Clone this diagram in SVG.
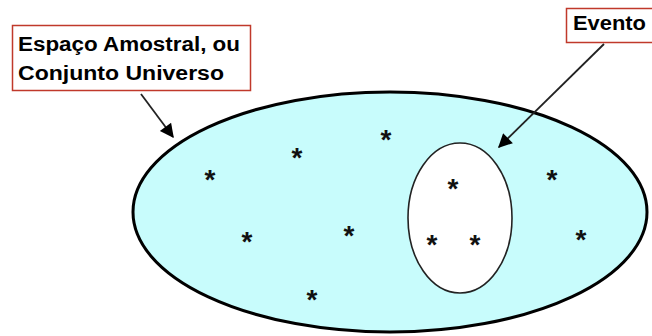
<svg xmlns="http://www.w3.org/2000/svg" width="652" height="336" viewBox="0 0 652 336">
<style>
.lbl{font-family:"Liberation Sans",Arial,sans-serif;font-weight:bold;font-size:20px;fill:#000}
.box{fill:#fff;stroke:#c0392b;stroke-width:1.5}
.star{font-family:"Liberation Sans",Arial,sans-serif;font-weight:bold;font-size:28px;fill:#111;text-anchor:middle}
.conn{stroke:#222;stroke-width:1.8;fill:none}
</style>
<defs>
<marker id="ahb" viewBox="0 0 10 10" refX="9" refY="5" markerWidth="16" markerHeight="14" markerUnits="userSpaceOnUse" orient="auto">
<path d="M0,0 L10,5 L0,10 z" fill="#000"/>
</marker>
</defs>
<rect width="652" height="336" fill="#fff"/>
<g id="espaco">
<ellipse cx="390" cy="212" rx="257" ry="120" fill="#c8fcfc" stroke="#000" stroke-width="3"/>
</g>
<g id="evento-set">
<ellipse cx="460" cy="218" rx="52" ry="75" fill="#fff" stroke="#222" stroke-width="1.6"/>
</g>
<g id="stars">
<text class="star" x="210" y="189">*</text>
<text class="star" x="297" y="167">*</text>
<text class="star" x="386" y="149">*</text>
<text class="star" x="247" y="251">*</text>
<text class="star" x="349" y="245">*</text>
<text class="star" x="312" y="309">*</text>
<text class="star" x="453" y="198">*</text>
<text class="star" x="432" y="254">*</text>
<text class="star" x="475" y="254">*</text>
<text class="star" x="552" y="189">*</text>
<text class="star" x="581" y="249">*</text>
</g>
<g id="label-espaco">
<rect class="box" x="12.5" y="25.5" width="238" height="65"/>
<text class="lbl" x="18" y="51" textLength="222" lengthAdjust="spacingAndGlyphs">Espaço Amostral, ou</text>
<text class="lbl" x="18" y="80" textLength="206" lengthAdjust="spacingAndGlyphs">Conjunto Universo</text>
</g>
<g id="label-evento">
<rect class="box" x="566.5" y="8.5" width="95" height="34"/>
<text class="lbl" x="573" y="30" textLength="73" lengthAdjust="spacingAndGlyphs">Evento</text>
</g>
<g id="connectors">
<line class="conn" x1="141" y1="94" x2="173" y2="137" marker-end="url(#ahb)"/>
<line class="conn" x1="604" y1="44" x2="499" y2="147" marker-end="url(#ahb)"/>
</g>
</svg>
